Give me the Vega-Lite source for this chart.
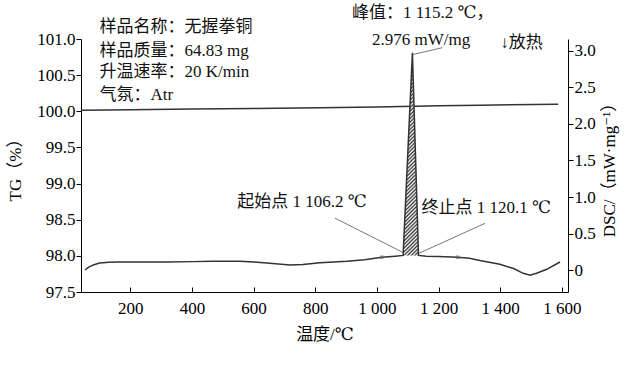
{
  "$schema": "https://vega.github.io/schema/vega-lite/v6.json",
  "width": 487,
  "height": 253,
  "autosize": {"type": "none"},
  "padding": {"left": 81, "top": 39, "right": 72, "bottom": 76},
  "background": "white",
  "config": {
    "view": {"stroke": null},
    "font": "Liberation Serif, Times New Roman, DejaVu Serif, Noto Sans CJK SC, serif",
    "axis": {
      "grid": false,
      "domainColor": "#000",
      "tickColor": "#000",
      "labelColor": "#000",
      "titleColor": "#000",
      "labelFont": "Liberation Serif, Times New Roman, DejaVu Serif, serif",
      "labelFontSize": 17,
      "titleFont": "Liberation Serif, Times New Roman, DejaVu Serif, Noto Sans CJK SC, serif",
      "titleFontSize": 17,
      "titleFontWeight": "normal",
      "domainWidth": 1,
      "tickWidth": 1,
      "labelOverlap": false
    },
    "axisBottom": {"tickSize": -5, "labelPadding": 13, "titlePadding": 10, "labelFlush": false},
    "axisLeft": {"tickSize": 5, "labelPadding": 1, "titlePadding": 12},
    "axisRight": {"tickSize": 5, "labelPadding": 1, "titlePadding": 6}
  },
  "datasets": {
    "tg": [
      {"T": 40, "tg": 100.015},
      {"T": 200, "tg": 100.02},
      {"T": 400, "tg": 100.03},
      {"T": 600, "tg": 100.04},
      {"T": 815, "tg": 100.05},
      {"T": 1000, "tg": 100.06},
      {"T": 1200, "tg": 100.075},
      {"T": 1334, "tg": 100.085},
      {"T": 1588, "tg": 100.097}
    ],
    "info": [
      {"T": 100, "tg": 101.17, "label": "样品名称：无握拳铜"},
      {"T": 100, "tg": 100.84, "label": "样品质量：64.83 mg"},
      {"T": 100, "tg": 100.54, "label": "升温速率：20 K/min"},
      {"T": 100, "tg": 100.23, "label": "气氛：Atr"}
    ],
    "dsc": [
      {"T": 53, "dsc": 0.0},
      {"T": 65, "dsc": 0.04},
      {"T": 80, "dsc": 0.07},
      {"T": 100, "dsc": 0.095},
      {"T": 130, "dsc": 0.105},
      {"T": 160, "dsc": 0.11},
      {"T": 250, "dsc": 0.11},
      {"T": 320, "dsc": 0.11},
      {"T": 400, "dsc": 0.115},
      {"T": 468, "dsc": 0.12},
      {"T": 556, "dsc": 0.12},
      {"T": 600, "dsc": 0.11},
      {"T": 643, "dsc": 0.095},
      {"T": 718, "dsc": 0.07},
      {"T": 760, "dsc": 0.075},
      {"T": 815, "dsc": 0.1},
      {"T": 903, "dsc": 0.12},
      {"T": 960, "dsc": 0.14},
      {"T": 1016, "dsc": 0.175},
      {"T": 1060, "dsc": 0.19},
      {"T": 1085, "dsc": 0.2},
      {"T": 1115.2, "dsc": 2.976},
      {"T": 1135, "dsc": 0.2},
      {"T": 1160, "dsc": 0.19},
      {"T": 1200, "dsc": 0.185},
      {"T": 1262, "dsc": 0.175},
      {"T": 1300, "dsc": 0.16},
      {"T": 1334, "dsc": 0.13},
      {"T": 1399, "dsc": 0.08},
      {"T": 1443, "dsc": 0.02},
      {"T": 1475, "dsc": -0.045},
      {"T": 1497, "dsc": -0.07},
      {"T": 1518, "dsc": -0.045},
      {"T": 1551, "dsc": 0.01},
      {"T": 1594, "dsc": 0.11}
    ],
    "peak": [
      {"T": 1085, "dsc": 0.2, "base": 0.2},
      {"T": 1115.2, "dsc": 2.976, "base": 0.2},
      {"T": 1135, "dsc": 0.2, "base": 0.2}
    ],
    "markers": [
      {"T": 1016, "dsc": 0.175},
      {"T": 1262, "dsc": 0.175}
    ],
    "leaders": [
      {"T": 1115.2, "dsc": 2.95, "T2": 1212, "dsc2": 3.045},
      {"T": 864, "dsc": 0.71, "T2": 1085, "dsc2": 0.24},
      {"T": 1351, "dsc": 0.64, "T2": 1137, "dsc2": 0.23}
    ],
    "notes": [
      {"T": 919, "dsc": 3.52, "label": "峰值：1 115.2 ℃，"},
      {"T": 984, "dsc": 3.15, "label": "2.976 mW/mg"},
      {"T": 1400, "dsc": 3.11, "label": "↓放热"},
      {"T": 547, "dsc": 0.936, "label": "起始点 1 106.2 ℃"},
      {"T": 1145, "dsc": 0.845, "label": "终止点 1 120.1 ℃"}
    ]
  },
  "layer": [
    {
      "layer": [
        {
          "data": {"name": "tg"},
          "mark": {"type": "line", "color": "#333", "strokeWidth": 1.5},
          "encoding": {
            "x": {"field": "T", "type": "quantitative", "scale": {"domain": [40, 1620], "nice": false, "zero": false}, "axis": {"values": [200, 400, 600, 800, 1000, 1200, 1400, 1600], "labelOverlap": false, "labelExpr": "datum.value >= 1000 ? replace(format(datum.value, ','), ',', ' ') : datum.label"}, "title": "温度/℃"},
            "y": {"field": "tg", "type": "quantitative", "scale": {"domain": [97.5, 101.0], "nice": false, "zero": false}, "axis": {"orient": "left", "values": [97.5, 98.0, 98.5, 99.0, 99.5, 100.0, 100.5, 101.0], "labelExpr": "format(datum.value, '.1f')", "labelOverlap": false, "labelBound": false}, "title": "TG（%）"}
          }
        },
        {
          "data": {"name": "info"},
          "mark": {"type": "text", "align": "left", "baseline": "middle", "fontSize": 17, "color": "#111"},
          "encoding": {
            "x": {"field": "T", "type": "quantitative", "title": "温度/℃"},
            "y": {"field": "tg", "type": "quantitative", "axis": {"orient": "left", "values": [97.5, 98.0, 98.5, 99.0, 99.5, 100.0, 100.5, 101.0], "labelExpr": "format(datum.value, '.1f')", "labelOverlap": false, "labelBound": false}, "title": "TG（%）"},
            "text": {"field": "label"}
          }
        }
      ]
    },
    {
      "layer": [
        {
          "data": {"name": "peak"},
          "mark": {
            "type": "area",
            "opacity": 1,
            "color": {
              "gradient": "linear",
              "x1": 0, "y1": 0, "x2": 0.0813, "y2": 1.07,
              "stops": [
                {"offset": 0, "color": "#333"}, {"offset": 0.0083, "color": "#fff"}, {"offset": 0.0167, "color": "#333"}, {"offset": 0.025, "color": "#fff"}, {"offset": 0.0333, "color": "#333"}, {"offset": 0.0417, "color": "#fff"}, {"offset": 0.05, "color": "#333"}, {"offset": 0.0583, "color": "#fff"}, {"offset": 0.0667, "color": "#333"}, {"offset": 0.075, "color": "#fff"}, {"offset": 0.0833, "color": "#333"}, {"offset": 0.0917, "color": "#fff"},
                {"offset": 0.1, "color": "#333"}, {"offset": 0.1083, "color": "#fff"}, {"offset": 0.1167, "color": "#333"}, {"offset": 0.125, "color": "#fff"}, {"offset": 0.1333, "color": "#333"}, {"offset": 0.1417, "color": "#fff"}, {"offset": 0.15, "color": "#333"}, {"offset": 0.1583, "color": "#fff"}, {"offset": 0.1667, "color": "#333"}, {"offset": 0.175, "color": "#fff"}, {"offset": 0.1833, "color": "#333"}, {"offset": 0.1917, "color": "#fff"},
                {"offset": 0.2, "color": "#333"}, {"offset": 0.2083, "color": "#fff"}, {"offset": 0.2167, "color": "#333"}, {"offset": 0.225, "color": "#fff"}, {"offset": 0.2333, "color": "#333"}, {"offset": 0.2417, "color": "#fff"}, {"offset": 0.25, "color": "#333"}, {"offset": 0.2583, "color": "#fff"}, {"offset": 0.2667, "color": "#333"}, {"offset": 0.275, "color": "#fff"}, {"offset": 0.2833, "color": "#333"}, {"offset": 0.2917, "color": "#fff"},
                {"offset": 0.3, "color": "#333"}, {"offset": 0.3083, "color": "#fff"}, {"offset": 0.3167, "color": "#333"}, {"offset": 0.325, "color": "#fff"}, {"offset": 0.3333, "color": "#333"}, {"offset": 0.3417, "color": "#fff"}, {"offset": 0.35, "color": "#333"}, {"offset": 0.3583, "color": "#fff"}, {"offset": 0.3667, "color": "#333"}, {"offset": 0.375, "color": "#fff"}, {"offset": 0.3833, "color": "#333"}, {"offset": 0.3917, "color": "#fff"},
                {"offset": 0.4, "color": "#333"}, {"offset": 0.4083, "color": "#fff"}, {"offset": 0.4167, "color": "#333"}, {"offset": 0.425, "color": "#fff"}, {"offset": 0.4333, "color": "#333"}, {"offset": 0.4417, "color": "#fff"}, {"offset": 0.45, "color": "#333"}, {"offset": 0.4583, "color": "#fff"}, {"offset": 0.4667, "color": "#333"}, {"offset": 0.475, "color": "#fff"}, {"offset": 0.4833, "color": "#333"}, {"offset": 0.4917, "color": "#fff"},
                {"offset": 0.5, "color": "#333"}, {"offset": 0.5083, "color": "#fff"}, {"offset": 0.5167, "color": "#333"}, {"offset": 0.525, "color": "#fff"}, {"offset": 0.5333, "color": "#333"}, {"offset": 0.5417, "color": "#fff"}, {"offset": 0.55, "color": "#333"}, {"offset": 0.5583, "color": "#fff"}, {"offset": 0.5667, "color": "#333"}, {"offset": 0.575, "color": "#fff"}, {"offset": 0.5833, "color": "#333"}, {"offset": 0.5917, "color": "#fff"},
                {"offset": 0.6, "color": "#333"}, {"offset": 0.6083, "color": "#fff"}, {"offset": 0.6167, "color": "#333"}, {"offset": 0.625, "color": "#fff"}, {"offset": 0.6333, "color": "#333"}, {"offset": 0.6417, "color": "#fff"}, {"offset": 0.65, "color": "#333"}, {"offset": 0.6583, "color": "#fff"}, {"offset": 0.6667, "color": "#333"}, {"offset": 0.675, "color": "#fff"}, {"offset": 0.6833, "color": "#333"}, {"offset": 0.6917, "color": "#fff"},
                {"offset": 0.7, "color": "#333"}, {"offset": 0.7083, "color": "#fff"}, {"offset": 0.7167, "color": "#333"}, {"offset": 0.725, "color": "#fff"}, {"offset": 0.7333, "color": "#333"}, {"offset": 0.7417, "color": "#fff"}, {"offset": 0.75, "color": "#333"}, {"offset": 0.7583, "color": "#fff"}, {"offset": 0.7667, "color": "#333"}, {"offset": 0.775, "color": "#fff"}, {"offset": 0.7833, "color": "#333"}, {"offset": 0.7917, "color": "#fff"},
                {"offset": 0.8, "color": "#333"}, {"offset": 0.8083, "color": "#fff"}, {"offset": 0.8167, "color": "#333"}, {"offset": 0.825, "color": "#fff"}, {"offset": 0.8333, "color": "#333"}, {"offset": 0.8417, "color": "#fff"}, {"offset": 0.85, "color": "#333"}, {"offset": 0.8583, "color": "#fff"}, {"offset": 0.8667, "color": "#333"}, {"offset": 0.875, "color": "#fff"}, {"offset": 0.8833, "color": "#333"}, {"offset": 0.8917, "color": "#fff"},
                {"offset": 0.9, "color": "#333"}, {"offset": 0.9083, "color": "#fff"}, {"offset": 0.9167, "color": "#333"}, {"offset": 0.925, "color": "#fff"}, {"offset": 0.9333, "color": "#333"}, {"offset": 0.9417, "color": "#fff"}, {"offset": 0.95, "color": "#333"}, {"offset": 0.9583, "color": "#fff"}, {"offset": 0.9667, "color": "#333"}, {"offset": 0.975, "color": "#fff"}, {"offset": 0.9833, "color": "#333"}, {"offset": 0.9917, "color": "#fff"},
                {"offset": 1, "color": "#333"}
              ]
            }
          },
          "encoding": {
            "x": {"field": "T", "type": "quantitative", "title": "温度/℃"},
            "y": {"field": "dsc", "type": "quantitative", "scale": {"domain": [-0.301, 3.164], "nice": false, "zero": false}, "axis": {"orient": "right", "values": [0, 0.5, 1.0, 1.5, 2.0, 2.5, 3.0], "labelExpr": "datum.value == 0 ? '0' : format(datum.value, '.1f')", "titleAngle": -90, "titleBaseline": "top"}, "title": "DSC/（mW·mg⁻¹）"},
            "y2": {"field": "base"}
          }
        },
        {
          "data": {"name": "leaders"},
          "mark": {"type": "rule", "color": "#777", "strokeWidth": 1},
          "encoding": {
            "x": {"field": "T", "type": "quantitative", "title": "温度/℃"},
            "y": {"field": "dsc", "type": "quantitative", "title": "DSC/（mW·mg⁻¹）"},
            "x2": {"field": "T2"},
            "y2": {"field": "dsc2"}
          }
        },
        {
          "data": {"name": "dsc"},
          "mark": {"type": "line", "color": "#333", "strokeWidth": 1.5},
          "encoding": {
            "x": {"field": "T", "type": "quantitative", "title": "温度/℃"},
            "y": {"field": "dsc", "type": "quantitative", "title": "DSC/（mW·mg⁻¹）"}
          }
        },
        {
          "data": {"name": "markers"},
          "mark": {"type": "point", "shape": "square", "size": 12, "filled": true, "color": "#666"},
          "encoding": {
            "x": {"field": "T", "type": "quantitative", "title": "温度/℃"},
            "y": {"field": "dsc", "type": "quantitative", "title": "DSC/（mW·mg⁻¹）"}
          }
        },
        {
          "data": {"name": "notes"},
          "mark": {"type": "text", "align": "left", "baseline": "middle", "fontSize": 17, "color": "#111"},
          "encoding": {
            "x": {"field": "T", "type": "quantitative", "title": "温度/℃"},
            "y": {"field": "dsc", "type": "quantitative", "title": "DSC/（mW·mg⁻¹）"},
            "text": {"field": "label"}
          }
        }
      ]
    }
  ],
  "resolve": {"scale": {"y": "independent"}}
}
